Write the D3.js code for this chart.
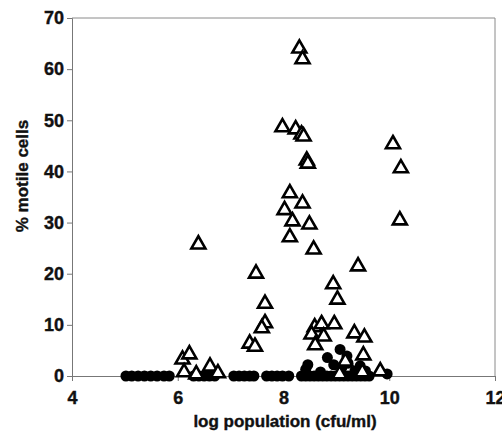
<!DOCTYPE html>
<html>
<head>
<meta charset="utf-8">
<script src="https://cdn.jsdelivr.net/npm/d3@7"></script>
<style>
  html, body { margin: 0; padding: 0; background: #fff; }
  svg { display: block; }
  text { font-family: "Liberation Sans", Arial, sans-serif; font-weight: bold; fill: #111; stroke: #111; stroke-width: 0.4px; }
</style>
</head>
<body>
<svg id="chart" width="502" height="434"></svg>
<script>
// Axis ticks
const xTicks = [4, 6, 8, 10, 12];
const yTicks = [0, 10, 20, 30, 40, 50, 60, 70];

// Non-motile population (filled circles): log population, % motile
const circleX = [5.02, 5.13, 5.25, 5.37, 5.49, 5.61, 5.74, 5.84,
                 6.3, 6.4, 6.5, 6.6, 6.7,
                 7.06, 7.16, 7.26, 7.36, 7.44,
                 7.68, 7.78, 7.88, 7.98, 8.1,
                 8.34, 8.42, 8.5, 8.58, 8.66, 8.74, 8.82, 8.9, 8.98, 9.06, 9.14, 9.22, 9.3, 9.38, 9.46, 9.54, 9.62, 9.96,
                 8.42, 8.46, 8.83, 9.07, 9.2, 9.22, 8.95, 9.1, 9.45, 9.35, 8.7, 9.55];
const circleY = [0, 0, 0, 0, 0, 0, 0, 0,
                 0, 0, 0, 0, 0,
                 0, 0, 0, 0, 0,
                 0, 0, 0, 0, 0,
                 0, 0, 0, 0, 0, 0, 0, 0, 0, 0, 0, 0, 0, 0, 0, 0, 0, 0.4,
                 1.3, 2.2, 3.6, 5.2, 3.9, 2.5, 2.2, 1.5, 2.0, 1.0, 0.8, 1.0];

// Motile population (open triangles): log population, % motile
const triX = [8.30, 8.36, 7.98, 8.23, 8.34, 8.38, 8.44, 8.46, 8.12, 8.36,
              8.02, 8.17, 8.49, 8.12, 8.57, 6.39, 7.48, 9.41, 8.94, 9.02,
              7.65, 7.65, 7.59, 7.36, 7.46, 8.59, 8.72, 8.96, 8.53, 8.76,
              8.60, 9.34, 9.53, 9.51, 9.17, 9.06, 9.49, 9.83, 6.09, 6.22,
              6.12, 6.35, 6.61, 6.76, 10.07, 10.22, 10.20];
const triY = [64.3, 62.2, 48.9, 48.5, 47.5, 47.1, 42.4, 41.8, 36.0, 34.0,
              32.7, 30.5, 29.9, 27.4, 25.0, 26.0, 20.3, 21.7, 18.2, 15.2,
              14.4, 10.6, 9.6, 6.6, 6.0, 9.8, 10.4, 10.4, 8.4, 8.0,
              6.3, 8.6, 7.8, 4.3, 3.1, 0.6, 1.0, 1.2, 3.5, 4.5,
              1.0, 0.6, 2.1, 0.8, 45.6, 40.9, 30.7];

const svg = d3.select("#chart");
const x = d3.scaleLinear().domain([4, 12]).range([72, 495]);
const y = d3.scaleLinear().domain([0, 70]).range([376, 18]);

// Plot frame (top and right edges)
svg.append("path")
  .attr("d", `M${x(4)},${y(70)}H${x(12)}V${y(0)}`)
  .attr("fill", "none").attr("stroke", "#8a8a8a").attr("stroke-width", 1);

// Y axis
const yAxis = svg.append("g")
  .attr("transform", `translate(${x(4)},0)`)
  .call(d3.axisLeft(y).tickValues(yTicks).tickSize(5).tickPadding(3));
// X axis
const xAxis = svg.append("g")
  .attr("transform", `translate(0,${y(0)})`)
  .call(d3.axisBottom(x).tickValues(xTicks).tickSize(5).tickPadding(10));

[yAxis, xAxis].forEach(g => {
  g.select(".domain").attr("stroke", "#777").attr("stroke-width", 1);
  g.selectAll(".tick line").attr("stroke", "#777");
  g.selectAll(".tick text")
    .style("font-family", '"Liberation Sans", Arial, sans-serif')
    .style("font-weight", "bold")
    .style("font-size", "18px")
    .attr("fill", "#111")
    .attr("stroke", "#111")
    .attr("stroke-width", 0.4);
});

// Axis titles
svg.append("text")
  .attr("x", 285).attr("y", 427)
  .attr("text-anchor", "middle")
  .style("font-size", "17px")
  .text("log population (cfu/ml)");
svg.append("text")
  .attr("transform", "translate(28,176) rotate(-90)")
  .attr("text-anchor", "middle")
  .style("font-size", "17px")
  .text("% motile cells");

// Filled circles
svg.append("g").selectAll("circle")
  .data(circleX.map((v, i) => [v, circleY[i]]))
  .join("circle")
  .attr("cx", d => x(d[0]))
  .attr("cy", d => y(d[1]))
  .attr("r", 5.5)
  .attr("fill", "#000");

// Open triangles
const triPath = (() => {
  const p = d3.path();
  p.moveTo(0, -6.8); p.lineTo(7, 5.4); p.lineTo(-7, 5.4); p.closePath();
  return p.toString();
})();
svg.append("g").selectAll("path")
  .data(triX.map((v, i) => [v, triY[i]]))
  .join("path")
  .attr("d", triPath)
  .attr("transform", d => `translate(${x(d[0])},${y(d[1])})`)
  .attr("fill", "#fff")
  .attr("stroke", "#000")
  .attr("stroke-width", 2.6)
  .attr("stroke-linejoin", "miter");
</script>
</body>
</html>
